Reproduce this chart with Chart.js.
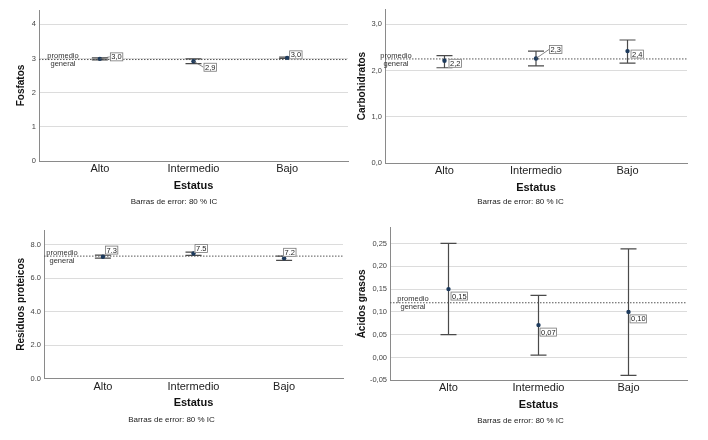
<!DOCTYPE html>
<html>
<head>
<meta charset="utf-8">
<script src="https://cdn.jsdelivr.net/npm/chart.js@4.4.1/dist/chart.umd.min.js"></script>
<style>
    html, body { margin: 0; padding: 0; background: #fff; }
    #wrap { position: relative; width: 708px; height: 440px; }
    .panel { position: absolute; width: 354px; height: 220px; }
</style>
</head>
<body>
<div id="wrap">
    <div class="panel" style="left:0;top:0"><canvas id="fosfatos" width="354" height="220"></canvas></div>
    <div class="panel" style="left:354px;top:0"><canvas id="carbohidratos" width="354" height="220"></canvas></div>
    <div class="panel" style="left:0;top:220px"><canvas id="residuos" width="354" height="220"></canvas></div>
    <div class="panel" style="left:354px;top:220px"><canvas id="acidos" width="354" height="220"></canvas></div>
</div>
<script>
// ===== DATA =====

const categories = ["Alto", "Intermedio", "Bajo"];
const nota = "Barras de error: 80 % IC";

const fosfatosMedia = [2.99, 2.92, 3.02];
const fosfatosInf = [2.96, 2.85, 3.00];
const fosfatosSup = [3.02, 2.99, 3.04];
const fosfatosEtiquetas = ["3,0", "2,9", "3,0"];
const fosfatosPromedio = 2.97;
const fosfatosTicks = [0, 1, 2, 3, 4];
const fosfatosTickLabels = ["0", "1", "2", "3", "4"];

const carbohidratosMedia = [2.21, 2.26, 2.42];
const carbohidratosInf = [2.06, 2.10, 2.16];
const carbohidratosSup = [2.32, 2.42, 2.66];
const carbohidratosEtiquetas = ["2,2", "2,3", "2,4"];
const carbohidratosPromedio = 2.25;
const carbohidratosTicks = [0, 1, 2, 3];
const carbohidratosTickLabels = ["0,0", "1,0", "2,0", "3,0"];

const residuosMedia = [7.28, 7.48, 7.19];
const residuosInf = [7.20, 7.37, 7.07];
const residuosSup = [7.38, 7.56, 7.32];
const residuosEtiquetas = ["7.3", "7.5", "7.2"];
const residuosPromedio = 7.32;
const residuosTicks = [0, 2, 4, 6, 8];
const residuosTickLabels = ["0.0", "2.0", "4.0", "6.0", "8.0"];

const acidosMedia = [0.150, 0.071, 0.100];
const acidosInf = [0.050, 0.005, -0.039];
const acidosSup = [0.250, 0.136, 0.238];
const acidosEtiquetas = ["0,15", "0,07", "0,10"];
const acidosPromedio = 0.120;
const acidosTicks = [-0.05, 0, 0.05, 0.10, 0.15, 0.20, 0.25];
const acidosTickLabels = ["-0,05", "0,00", "0,05", "0,10", "0,15", "0,20", "0,25"];

const FONT = "'Liberation Sans', Arial, sans-serif";

// ===== PANEL =====

function buildPanel(id, p) {

    const titlePadBottom = 220 - p.noteY - 4.8;
    const titleH = 9.6 + titlePadBottom;
    const xHeight = 220 - titleH - p.bottom;

    const errorPlugin = {
        id: "errores_" + id,
        beforeDatasetsDraw(chart) {
            const { ctx, chartArea } = chart;
            const x = chart.scales.x;
            const y = chart.scales.y;
            ctx.save();

            // promedio general
            const gy = y.getPixelForValue(p.promedio);
            ctx.strokeStyle = "#555";
            ctx.lineWidth = 1;
            ctx.setLineDash([1.5, 1.5]);
            ctx.beginPath();
            ctx.moveTo(chartArea.left, gy);
            ctx.lineTo(chartArea.right, gy);
            ctx.stroke();
            ctx.setLineDash([]);

            ctx.font = "7.5px " + FONT;
            ctx.fillStyle = "#333";
            ctx.textAlign = "center";
            ctx.textBaseline = "middle";
            ctx.fillText("promedio", chartArea.left + p.promX, gy - 3.5);
            ctx.fillText("general", chartArea.left + p.promX, gy + 4.5);

            // barras de error
            ctx.strokeStyle = "#4a4a4a";
            ctx.lineWidth = 1.2;
            categories.forEach((c, i) => {
                const px = x.getPixelForValue(i);
                const yl = y.getPixelForValue(p.inf[i]);
                const yu = y.getPixelForValue(p.sup[i]);
                ctx.beginPath();
                ctx.moveTo(px, yu);
                ctx.lineTo(px, yl);
                ctx.moveTo(px - 8, yu);
                ctx.lineTo(px + 8, yu);
                ctx.moveTo(px - 8, yl);
                ctx.lineTo(px + 8, yl);
                ctx.stroke();
            });
            ctx.restore();
        },
        afterDatasetsDraw(chart) {
            const { ctx } = chart;
            const x = chart.scales.x;
            const y = chart.scales.y;
            ctx.save();
            ctx.font = "7.5px " + FONT;
            ctx.textAlign = "left";
            ctx.textBaseline = "middle";
            categories.forEach((c, i) => {
                const px = x.getPixelForValue(i);
                const py = y.getPixelForValue(p.media[i]);
                const off = p.offsets[i];
                const bx = px + off[0];
                const by = py + off[1];
                const tw = ctx.measureText(p.etiquetas[i]).width;
                const w = tw + 3;
                const h = 9;

                if (off[0] >= 8) {
                    ctx.strokeStyle = "#666";
                    ctx.lineWidth = 0.8;
                    ctx.beginPath();
                    ctx.moveTo(px, py);
                    ctx.lineTo(bx, by);
                    ctx.stroke();
                }

                ctx.fillStyle = "#fff";
                ctx.fillRect(bx, by - h / 2, w, h);
                ctx.strokeStyle = "#777";
                ctx.lineWidth = 0.8;
                ctx.strokeRect(bx + 0.5, by - h / 2 + 0.5, w - 1, h - 1);
                ctx.fillStyle = "#222";
                ctx.fillText(p.etiquetas[i], bx + 1.5, by + 0.5);
            });
            ctx.restore();
        }
    };

    return new Chart(document.getElementById(id), {
        type: "scatter",
        data: {
            datasets: [{
                data: categories.map((c, i) => ({ x: i, y: p.media[i] })),
                pointRadius: 2.2,
                pointBackgroundColor: "#1d3a5c",
                pointBorderWidth: 0
            }]
        },
        options: {
            responsive: false,
            animation: false,
            layout: {
                padding: { top: p.top, right: 354 - p.right, left: 0, bottom: 0 }
            },
            plugins: {
                legend: { display: false },
                tooltip: { enabled: false },
                title: {
                    display: true,
                    position: "bottom",
                    text: nota,
                    color: "#222",
                    font: { family: FONT, size: 8, weight: "normal", lineHeight: 1.2 },
                    padding: { top: 0, bottom: titlePadBottom }
                }
            },
            scales: {
                x: {
                    type: "linear",
                    min: -0.65,
                    max: 2.65,
                    afterBuildTicks: scale => {
                        scale.ticks = categories.map((c, i) => ({ value: i }));
                    },
                    afterFit: scale => { scale.height = xHeight; },
                    grid: { display: false, drawTicks: false },
                    border: { display: true, color: "#8a8a8a", width: 1 },
                    ticks: {
                        padding: p.catPad,
                        color: "#222",
                        font: { family: FONT, size: 11 },
                        callback: (v, i) => categories[i]
                    },
                    title: {
                        display: true,
                        text: "Estatus",
                        color: "#111",
                        font: { family: FONT, size: 11, weight: "bold", lineHeight: 1.2 },
                        padding: { top: 0, bottom: p.noteY - 4.8 - 6.6 - p.estY }
                    }
                },
                y: {
                    min: p.ymin,
                    max: p.ymax,
                    afterBuildTicks: scale => {
                        scale.ticks = p.ticks.map(v => ({ value: v }));
                    },
                    afterFit: scale => { scale.width = p.left; },
                    grid: { color: "#dcdcdc", lineWidth: 1, drawTicks: false },
                    border: { display: true, color: "#8a8a8a", width: 1 },
                    ticks: {
                        padding: 3,
                        color: "#444",
                        font: { family: FONT, size: 7.5 },
                        callback: (v, i) => p.tickLabels[i]
                    },
                    title: {
                        display: true,
                        text: p.titulo,
                        color: "#111",
                        font: { family: FONT, size: 10, weight: "bold", lineHeight: 1.2 },
                        padding: { top: p.yTitleX - 6, bottom: 0 }
                    }
                }
            }
        },
        plugins: [errorPlugin]
    });
}

// ===== CHARTS =====

buildPanel("fosfatos", {
    titulo: "Fosfatos",
    media: fosfatosMedia, inf: fosfatosInf, sup: fosfatosSup,
    etiquetas: fosfatosEtiquetas, promedio: fosfatosPromedio,
    ticks: fosfatosTicks, tickLabels: fosfatosTickLabels,
    ymin: 0, ymax: 4.42,
    left: 39, right: 348, top: 10, bottom: 161,
    catPad: 1.5, estY: 186, noteY: 202, yTitleX: 21.5, promX: 24,
    offsets: [[10, -2], [10, 6], [2, -3]]
});

buildPanel("carbohidratos", {
    titulo: "Carbohidratos",
    media: carbohidratosMedia, inf: carbohidratosInf, sup: carbohidratosSup,
    etiquetas: carbohidratosEtiquetas, promedio: carbohidratosPromedio,
    ticks: carbohidratosTicks, tickLabels: carbohidratosTickLabels,
    ymin: 0, ymax: 3.33,
    left: 31, right: 333, top: 9, bottom: 163,
    catPad: 1.5, estY: 188, noteY: 202, yTitleX: 8, promX: 11,
    offsets: [[4, 2.5], [13, -9], [3, 3]]
});

buildPanel("residuos", {
    titulo: "Residuos proteicos",
    media: residuosMedia, inf: residuosInf, sup: residuosSup,
    etiquetas: residuosEtiquetas, promedio: residuosPromedio,
    ticks: residuosTicks, tickLabels: residuosTickLabels,
    ymin: 0, ymax: 8.88,
    left: 44, right: 343, top: 10, bottom: 158.7,
    catPad: 1.5, estY: 182.7, noteY: 199.3, yTitleX: 21.5, promX: 18,
    offsets: [[2, -6.7], [1, -5], [-1, -6]]
});

buildPanel("acidos", {
    titulo: "Ácidos grasos",
    media: acidosMedia, inf: acidosInf, sup: acidosSup,
    etiquetas: acidosEtiquetas, promedio: acidosPromedio,
    ticks: acidosTicks, tickLabels: acidosTickLabels,
    ymin: -0.05, ymax: 0.285,
    left: 36, right: 333, top: 7, bottom: 160.3,
    catPad: 1.5, estY: 185, noteY: 201, yTitleX: 8, promX: 23,
    offsets: [[2, 7], [1, 7], [1, 7]]
});
</script>
</body>
</html>
